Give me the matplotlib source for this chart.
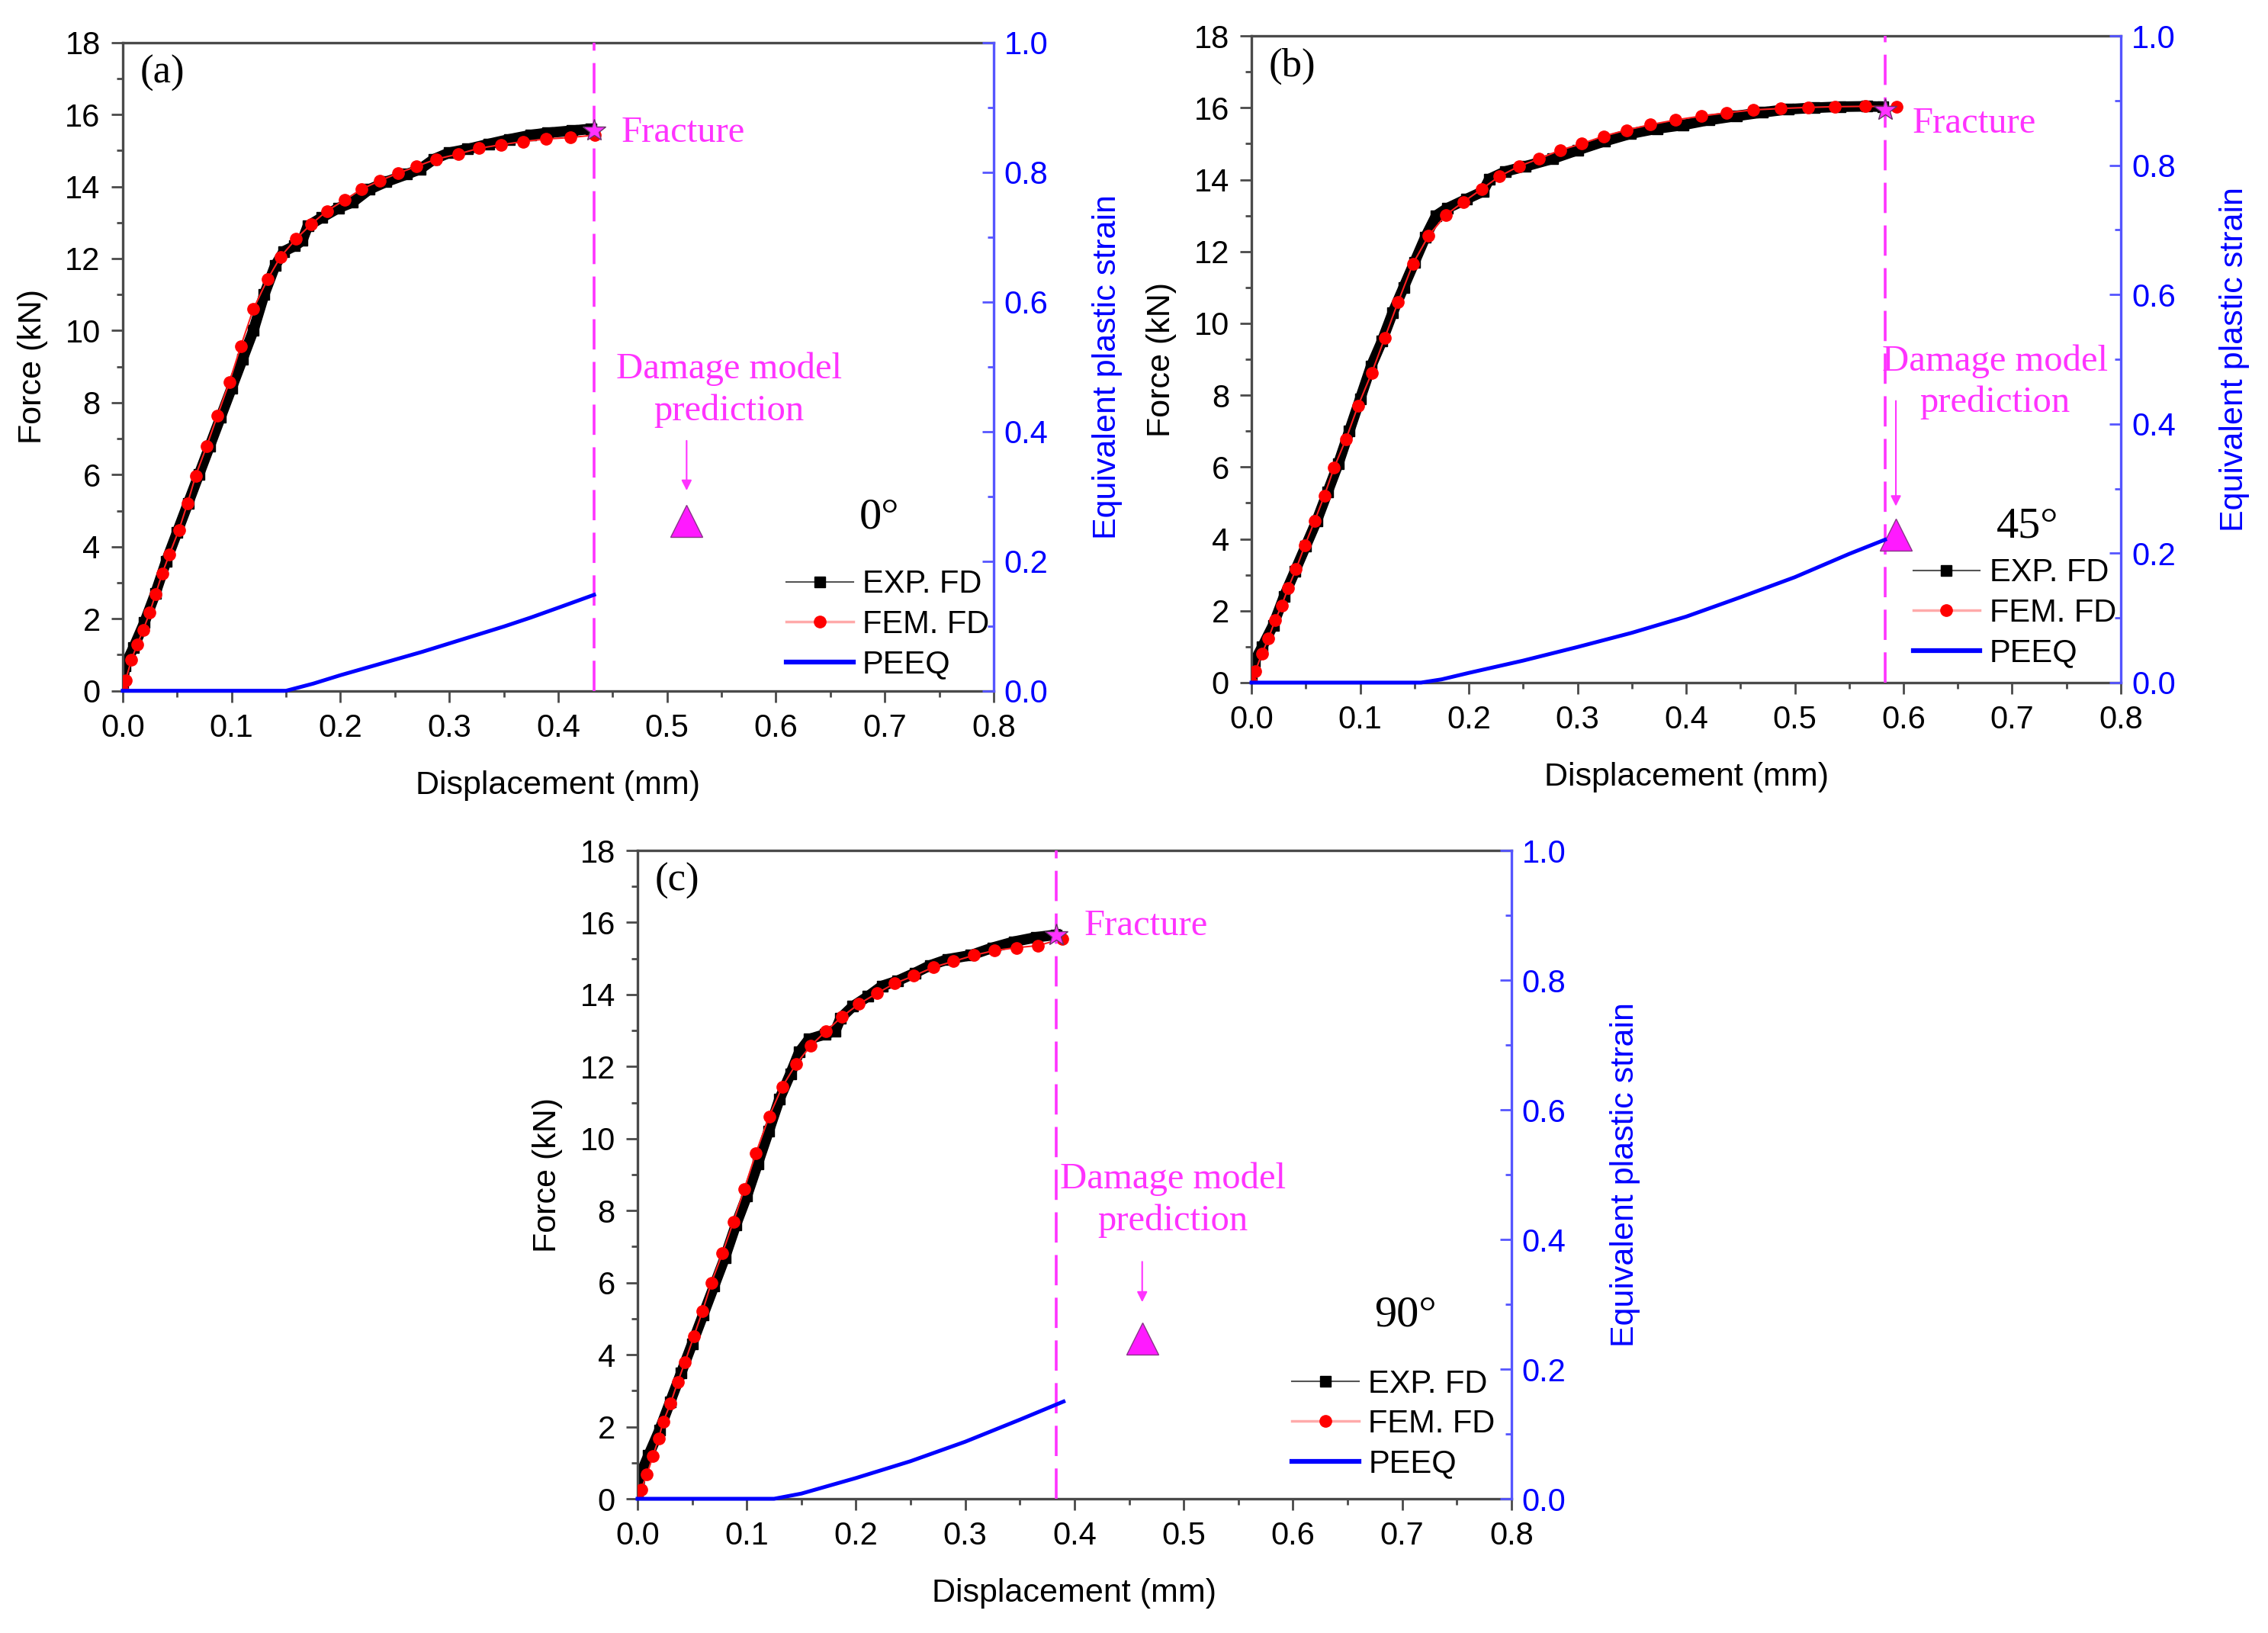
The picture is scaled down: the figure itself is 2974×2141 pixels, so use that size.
import matplotlib
matplotlib.use('Agg')
import matplotlib.pyplot as plt
from matplotlib.lines import Line2D
from matplotlib.ticker import MultipleLocator, FormatStrFormatter

plt.rcParams['font.family'] = ['Liberation Sans', 'DejaVu Sans']

# ---------- panel (a) 0 deg ----------
exp_a_x = [0, 0.002, 0.01, 0.02, 0.03, 0.04, 0.05, 0.06, 0.07, 0.08, 0.09, 0.10, 0.11,
           0.12, 0.13, 0.14, 0.148, 0.158, 0.165, 0.170, 0.183, 0.198, 0.211, 0.2265,
           0.242, 0.261, 0.273, 0.286, 0.300, 0.317, 0.336, 0.355, 0.375, 0.39, 0.4125, 0.43]
exp_a_y = [0, 0.7, 1.2, 1.9, 2.7, 3.6, 4.4, 5.2, 6.0, 6.8, 7.6, 8.4, 9.2,
           10.0, 11.0, 11.8, 12.2, 12.35, 12.5, 12.9, 13.14, 13.4, 13.56, 13.92,
           14.13, 14.34, 14.48, 14.76, 14.94, 15.04, 15.18, 15.31, 15.43, 15.49, 15.55, 15.6]
fem_a_x = [0, 0.0027, 0.008, 0.0134, 0.0188, 0.0248, 0.0302, 0.0362, 0.0429, 0.0516, 0.0596,
           0.067, 0.077, 0.087, 0.098, 0.1085, 0.120, 0.133, 0.145, 0.159, 0.173, 0.1875,
           0.204, 0.219, 0.236, 0.253, 0.270, 0.288, 0.308, 0.327, 0.3475, 0.368, 0.389,
           0.411, 0.434]
fem_a_y = [0, 0.29, 0.86, 1.29, 1.69, 2.17, 2.68, 3.25, 3.79, 4.46, 5.21,
           5.97, 6.78, 7.64, 8.57, 9.57, 10.6, 11.42, 12.05, 12.54, 12.95, 13.32,
           13.63, 13.92, 14.16, 14.37, 14.56, 14.76, 14.9, 15.06, 15.16, 15.25, 15.32,
           15.36, 15.43]
peeq_a_x = [0, 0.15, 0.175, 0.2, 0.225, 0.25, 0.275, 0.3, 0.325, 0.35, 0.375, 0.4, 0.433]
peeq_a_y = [0, 0, 0.011, 0.024, 0.036, 0.048, 0.060, 0.073, 0.086, 0.099, 0.113, 0.128, 0.148]

# ---------- panel (b) 45 deg ----------
exp_b_x = [0, 0.003, 0.01, 0.02, 0.03, 0.04, 0.05, 0.06, 0.07, 0.08, 0.09, 0.10, 0.11,
           0.12, 0.13, 0.14, 0.15, 0.16, 0.17, 0.18, 0.198, 0.213, 0.219, 0.234, 0.252,
           0.277, 0.3, 0.325, 0.349, 0.373, 0.397, 0.421, 0.446, 0.47, 0.494, 0.518,
           0.542, 0.566, 0.581]
exp_b_y = [0, 0.6, 1.0, 1.6, 2.4, 3.1, 3.8, 4.5, 5.3, 6.1, 7.0, 7.9, 8.8,
           9.5, 10.3, 11.0, 11.7, 12.4, 13.0, 13.2, 13.46, 13.67, 14.02, 14.23, 14.37,
           14.58, 14.82, 15.07, 15.28, 15.42, 15.52, 15.66, 15.77, 15.87, 15.96, 16.0,
           16.03, 16.04, 16.03]
fem_b_x = [0, 0.0036, 0.0097, 0.0157, 0.0217, 0.0278, 0.0338, 0.041, 0.049, 0.058, 0.067,
           0.076, 0.087, 0.098, 0.1105, 0.1226, 0.135, 0.1486, 0.163, 0.179, 0.195, 0.212,
           0.228, 0.246, 0.2645, 0.284, 0.304, 0.324, 0.345, 0.367, 0.39, 0.414, 0.437,
           0.462, 0.487, 0.512, 0.537, 0.565, 0.594]
fem_b_y = [0, 0.32, 0.81, 1.24, 1.73, 2.15, 2.64, 3.16, 3.81, 4.49, 5.2,
           5.98, 6.78, 7.7, 8.61, 9.59, 10.6, 11.66, 12.44, 13.02, 13.38, 13.74,
           14.09, 14.37, 14.58, 14.82, 15.0, 15.21, 15.38, 15.53, 15.66, 15.77, 15.86,
           15.94, 15.98, 16.01, 16.03, 16.04, 16.03]
peeq_b_x = [0, 0.156, 0.175, 0.2, 0.25, 0.3, 0.35, 0.4, 0.45, 0.5, 0.55, 0.583]
peeq_b_y = [0, 0, 0.005, 0.015, 0.034, 0.055, 0.077, 0.102, 0.132, 0.163, 0.199, 0.221]

# ---------- panel (c) 90 deg ----------
exp_c_x = [0, 0.003, 0.01, 0.02, 0.03, 0.04, 0.05, 0.06, 0.07, 0.08, 0.09, 0.10, 0.11,
           0.12, 0.13, 0.14, 0.148, 0.157, 0.172, 0.181, 0.186, 0.197, 0.211, 0.224,
           0.238, 0.254, 0.268, 0.284, 0.305, 0.325, 0.345, 0.365, 0.383]
exp_c_y = [0, 0.7, 1.2, 1.9, 2.7, 3.5, 4.3, 5.1, 5.9, 6.7, 7.6, 8.4, 9.3,
           10.2, 11.1, 11.8, 12.4, 12.76, 12.9, 12.99, 13.35, 13.67, 13.95, 14.24,
           14.38, 14.6, 14.81, 14.98, 15.09, 15.3, 15.47, 15.59, 15.66]
fem_c_x = [0, 0.0033, 0.0087, 0.014, 0.0194, 0.0234, 0.0301, 0.0368, 0.0435, 0.0515, 0.0596,
           0.0676, 0.0776, 0.0877, 0.0977, 0.1084, 0.1205, 0.1325, 0.1452, 0.1586, 0.1727,
           0.1874, 0.2028, 0.2189, 0.2356, 0.253, 0.271, 0.289, 0.308, 0.3266, 0.3467,
           0.3668, 0.389]
fem_c_y = [0, 0.26, 0.68, 1.18, 1.68, 2.13, 2.64, 3.24, 3.8, 4.51, 5.22,
           6.0, 6.81, 7.69, 8.6, 9.6, 10.62, 11.44, 12.07, 12.58, 12.99,
           13.39, 13.74, 14.03, 14.31, 14.52, 14.76, 14.92, 15.09, 15.22, 15.3,
           15.36, 15.55]
peeq_c_x = [0, 0.125, 0.15, 0.175, 0.2, 0.25, 0.3, 0.35, 0.39]
peeq_c_y = [0, 0, 0.008, 0.02, 0.032, 0.058, 0.088, 0.122, 0.15]

panel_tags = ['(a)', '(b)', '(c)']
angle_labels = ['0°', '45°', '90°']
fracture_x = [0.433, 0.583, 0.3835]
fracture_y = [15.55, 15.94, 15.66]
damage_x = [0.518, 0.593, 0.462]
damage_y = [4.72, 4.12, 4.44]

MAG = '#ff33ff'
SPINE = '#4a4a4a'
BLUE = '#0000ff'
RBLUE = '#5555ff'
SERIF = ['Liberation Serif', 'DejaVu Serif']


def draw_panel(rect, exp_x, exp_y, fem_x, fem_y, pe_x, pe_y, i, layout):
    ax = fig.add_axes(rect)
    ax2 = ax.twinx()

    # dense experimental squares form a thick band
    ax.plot(exp_x, exp_y, color='black', lw=10, solid_joinstyle='round', zorder=2)
    ax.plot(exp_x, exp_y, ls='none', marker='s', ms=10, color='black', zorder=2)
    ax.plot(fem_x, fem_y, color='#ff2020', lw=1.5, marker='o', ms=11,
            mfc='red', mec='red', zorder=3)
    ax.axvline(fracture_x[i], color=MAG, ls=(0, (11, 4.5)), lw=2.6, zorder=4)
    ax.plot([fracture_x[i]], [fracture_y[i]], marker='*', ms=22, color=MAG,
            mec='#663366', mew=1, zorder=5)
    ax.plot([damage_x[i]], [damage_y[i]], marker='^', ms=30, color='#ff1aff',
            mec='#883388', mew=1, ls='none', zorder=5)
    ax2.plot(pe_x, pe_y, color=BLUE, lw=3.6, zorder=3, clip_on=False)

    ax.set_xlim(0, 0.8)
    ax.set_ylim(0, 18)
    ax2.set_ylim(0, 1.0)
    ax.xaxis.set_major_locator(MultipleLocator(0.1))
    ax.xaxis.set_minor_locator(MultipleLocator(0.05))
    ax.yaxis.set_major_locator(MultipleLocator(2))
    ax.yaxis.set_minor_locator(MultipleLocator(1))
    ax2.yaxis.set_major_locator(MultipleLocator(0.2))
    ax2.yaxis.set_minor_locator(MultipleLocator(0.1))
    ax.xaxis.set_major_formatter(FormatStrFormatter('%.1f'))
    ax2.yaxis.set_major_formatter(FormatStrFormatter('%.1f'))

    ax.tick_params(which='both', direction='out', width=2, colors='black',
                   labelsize=30, color=SPINE)
    ax.tick_params(which='major', length=11, pad=10)
    ax.tick_params(which='minor', length=6)
    ax.tick_params(axis='y', which='both', right=False)
    ax2.tick_params(which='both', direction='in', width=2, color=RBLUE,
                    labelcolor=BLUE, labelsize=30)
    ax2.tick_params(which='major', length=11, pad=10)
    ax2.tick_params(which='minor', length=6)

    for s in ['left', 'bottom', 'top']:
        ax.spines[s].set_color(SPINE)
        ax.spines[s].set_linewidth(2.4)
        ax2.spines[s].set_visible(False)
    ax.spines['right'].set_visible(False)
    ax2.spines['right'].set_color(RBLUE)
    ax2.spines['right'].set_linewidth(2.4)

    ax.set_xlabel('Displacement (mm)', fontsize=31, labelpad=25)
    ax.set_ylabel('Force (kN)', fontsize=31, labelpad=16)
    ax2.set_ylabel('Equivalent plastic strain', fontsize=31, color=BLUE, labelpad=41)

    ax.text(0.016, 17.15, panel_tags[i], fontsize=38, family=SERIF, va='center')
    ax.text(fracture_x[i] + 0.025, layout['frac_ty'], 'Fracture', fontsize=35,
            family=SERIF, color=MAG, va='center')
    ax.text(layout['dm_x'], layout['dm_y'], 'Damage model\nprediction', fontsize=35,
            family=SERIF, color=MAG, ha='center', va='center', linespacing=1.3)
    ax.annotate('', xy=(damage_x[i], layout['arr'][1]),
                xytext=(damage_x[i], layout['arr'][0]),
                arrowprops=dict(arrowstyle='-|>', color=MAG, lw=1.5,
                                mutation_scale=20))
    ax.text(layout['ang'][0], layout['ang'][1], angle_labels[i], fontsize=42,
            family=SERIF, ha='center', va='center')

    handles = [
        Line2D([], [], color='#555555', lw=1.5, marker='s', ms=10, mfc='black', mec='black'),
        Line2D([], [], color='#ffaaaa', lw=2.5, marker='o', ms=11, mfc='red', mec='red'),
        Line2D([], [], color=BLUE, lw=4.5),
    ]
    ax2.legend(handles, ['EXP. FD', 'FEM. FD', 'PEEQ'], loc='lower left',
               bbox_to_anchor=layout['leg'], frameon=False, fontsize=30,
               handlelength=2.1, handletextpad=0.3, labelspacing=0.3,
               borderpad=0, borderaxespad=0)
    return ax


fig = plt.figure(figsize=(29.74, 21.41), dpi=100)

draw_panel([0.0541, 0.577, 0.384, 0.397], exp_a_x, exp_a_y, fem_a_x, fem_a_y,
           peeq_a_x, peeq_a_y, 0,
           dict(frac_ty=15.5, dm_x=0.557, dm_y=8.35, arr=(7.0, 5.5),
                ang=(0.695, 4.8), leg=(0.762, 0.017)))
draw_panel([0.5518, 0.582, 0.3833, 0.396], exp_b_x, exp_b_y, fem_b_x, fem_b_y,
           peeq_b_x, peeq_b_y, 1,
           dict(frac_ty=15.56, dm_x=0.684, dm_y=8.37, arr=(7.9, 4.85),
                ang=(0.714, 4.35), leg=(0.761, 0.022)))
draw_panel([0.2811, 0.0822, 0.3853, 0.397], exp_c_x, exp_c_y, fem_c_x, fem_c_y,
           peeq_c_x, peeq_c_y, 2,
           dict(frac_ty=15.9, dm_x=0.49, dm_y=8.3, arr=(6.64, 5.4),
                ang=(0.703, 5.1), leg=(0.749, 0.03)))

fig.savefig('out.png', dpi=100)
